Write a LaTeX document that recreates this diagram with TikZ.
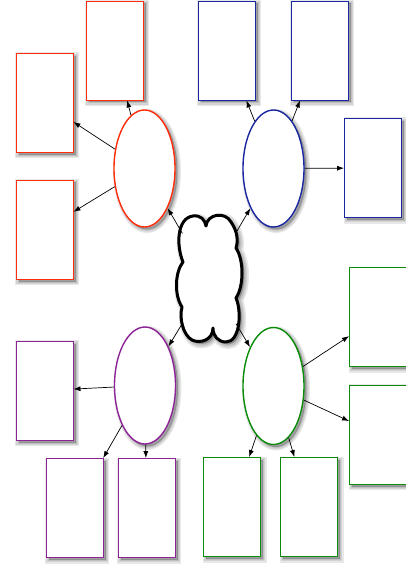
\documentclass[tikz,border=0pt]{standalone}
\usetikzlibrary{shapes.geometric,arrows.meta}
\definecolor{cred}{RGB}{255,45,10}
\definecolor{cblue}{RGB}{25,40,160}
\definecolor{cgreen}{RGB}{10,140,10}
\definecolor{cpurple}{RGB}{140,35,150}
\tikzset{
  shlayer/.style={preaction={draw=black,fill=black,draw opacity=0.09,fill opacity=0.09,line width=#1,
     transform canvas={xshift=2.5pt,yshift=-2.5pt}}},
  shd/.style={shlayer=7pt,shlayer=4.5pt,shlayer=2pt},
  leaf/.style={rectangle,draw=#1,fill=white,line width=0.9pt,minimum width=57pt,minimum height=99pt,inner sep=0pt,shd},
  hub/.style={ellipse,draw=#1,fill=white,line width=1.4pt,minimum width=61pt,minimum height=117pt,inner sep=0pt,shd},
  link/.style={-{Latex[length=7pt,width=5pt]},line width=0.7pt,black},
}
\begin{document}
\begin{tikzpicture}[x=1pt,y=-1pt]
\useasboundingbox (0,0) rectangle (406,569);
% cloud anchor
\node[ellipse,minimum width=74pt,minimum height=130pt,inner sep=0pt] (cloud) at (209,279) {};
\path[draw=black,fill=white,line width=3pt,line join=round,shlayer=9pt,shlayer=6pt,shlayer=3.5pt]
  (183,262) .. controls (176,245) and (177,218) .. (193,216)
  .. controls (201,215) and (205,220) .. (206,226)
  .. controls (207,214) and (225,211) .. (231,222)
  .. controls (238,232) and (238,242) .. (236,248)
  .. controls (244,260) and (244,286) .. (236,298)
  .. controls (242,312) and (240,342) .. (226,342)
  .. controls (218,342) and (213,336) .. (213,328)
  .. controls (213,340) and (200,344) .. (192,340)
  .. controls (183,335) and (179,318) .. (182,307)
  .. controls (174,295) and (175,272) .. (183,262) -- cycle;
% red group
\node[hub=cred] (rE) at (144.5,168.5) {};
\node[leaf=cred] (r1) at (114.5,50.5) {};
\node[leaf=cred] (r2) at (44.5,103) {};
\node[leaf=cred] (r3) at (44.5,229.5) {};
% blue group
\node[hub=cblue] (bE) at (273.5,168.5) {};
\node[leaf=cblue] (b1) at (226.5,50.5) {};
\node[leaf=cblue] (b2) at (319.5,50.5) {};
\node[leaf=cblue] (b3) at (373,168) {};
% green group
\node[hub=cgreen] (gE) at (273.5,386) {};
\node[leaf=cgreen] (g1) at (378,317) {};
\node[leaf=cgreen] (g2) at (378,434.5) {};
\node[leaf=cgreen] (g3) at (232,507) {};
\node[leaf=cgreen] (g4) at (309,507) {};
% purple group
\node[hub=cpurple] (pE) at (145,385.5) {};
\node[leaf=cpurple] (p1) at (44.5,390.5) {};
\node[leaf=cpurple] (p2) at (74.5,508) {};
\node[leaf=cpurple] (p3) at (146.5,508) {};
% connectors
\draw[link] (cloud) -- (rE);
\draw[link] (cloud) -- (bE);
\draw[link] (cloud) -- (gE);
\draw[link] (cloud) -- (pE);
\draw[link] (rE) -- (r1);
\draw[link] (rE) -- (r2);
\draw[link] (rE) -- (r3);
\draw[link] (bE) -- (b1);
\draw[link] (bE) -- (b2);
\draw[link] (bE) -- (b3);
\draw[link] (gE) -- (g1);
\draw[link] (gE) -- (g2);
\draw[link] (gE) -- (g3);
\draw[link] (gE) -- (g4);
\draw[link] (pE) -- (p1);
\draw[link] (pE) -- (p2);
\draw[link] (pE) -- (p3);
\end{tikzpicture}
\end{document}
